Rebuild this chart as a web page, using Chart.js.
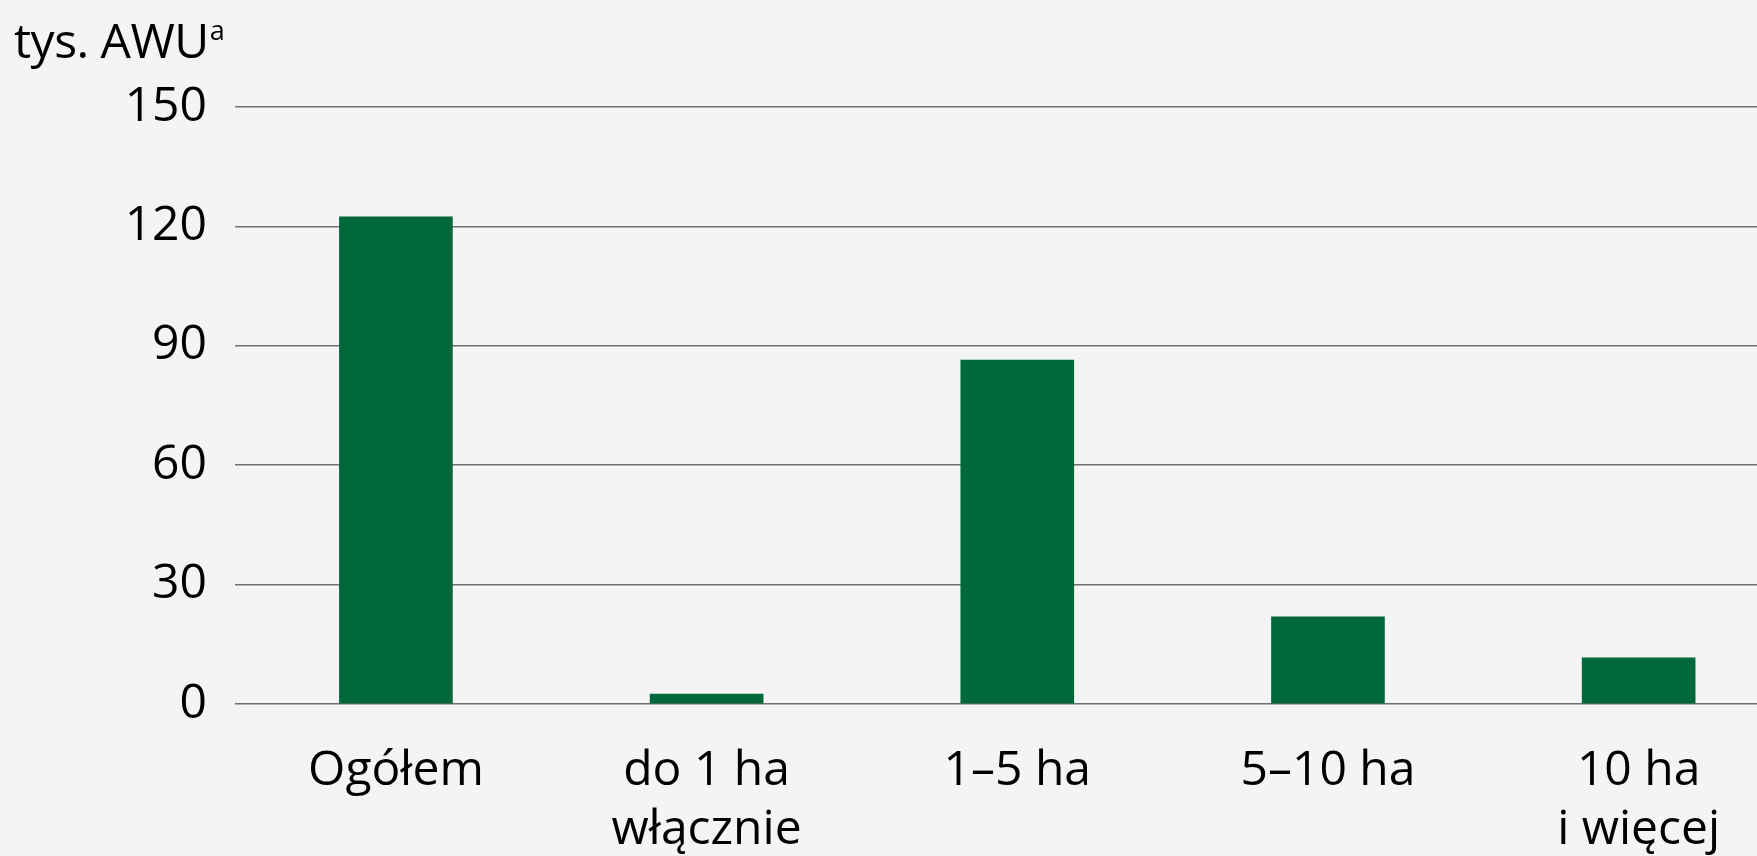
<!DOCTYPE html>
<html>
<head>
<meta charset="utf-8">
<script src="https://cdn.jsdelivr.net/npm/chart.js@4/dist/chart.umd.min.js"></script>
<style>
  html, body { margin: 0; padding: 0; background: #f4f4f4; overflow: hidden; }
  #wrap { position: relative; width: 1757px; height: 856px; }
  #unit { position: absolute; left: 14px; top: 16px; font-family: "Open Sans", sans-serif; font-size: 48px; line-height: 48px; color: #000; white-space: nowrap; letter-spacing: -0.5px; }
  #unit span { position: relative; top: -18px; font-size: 27px; margin-left: 1px; }
  canvas { position: absolute; left: 0; top: 0; }
</style>
</head>
<body>
<div id="wrap">
  <canvas id="c" width="1757" height="856"></canvas>
  <div id="unit">tys. AWU<span>a</span></div>
</div>
<script>
const categories = ["Ogółem", ["do 1 ha", "włącznie"], "1–5 ha", "5–10 ha", ["10 ha", "i więcej"]];
const values = [122.4, 2.5, 86.4, 21.9, 11.6];
const yTicks = [0, 30, 60, 90, 120, 150];

const FONT = { family: '"Open Sans", sans-serif', size: 48 };
const bg = {
  id: 'bg',
  beforeDraw(chart) {
    const ctx = chart.ctx;
    ctx.save();
    ctx.fillStyle = '#f4f4f4';
    ctx.fillRect(0, 0, chart.width, chart.height);
    ctx.restore();
  }
};

new Chart(document.getElementById('c'), {
  type: 'bar',
  data: {
    datasets: [{
      data: values.map((v, i) => ({ x: i, y: v })),
      backgroundColor: '#00693c',
      borderWidth: 0,
      barThickness: 113
    }]
  },
  options: {
    responsive: false,
    animation: false,
    layout: { padding: { top: 107, right: 0, left: 0, bottom: 0 } },
    plugins: { legend: { display: false }, tooltip: { enabled: false } },
    scales: {
      x: {
        type: 'linear',
        min: -0.518,
        max: 4.381,
        offset: false,
        grid: { display: false },
        border: { display: false },
        afterBuildTicks(scale) { scale.ticks = categories.map((c, i) => ({ value: i })); },
        afterFit(scale) { scale.height = 152; },
        ticks: {
          autoSkip: false,
          maxRotation: 0,
          padding: 30,
          color: '#000',
          font: { ...FONT, lineHeight: 1.23 },
          callback: (v) => categories[v]
        }
      },
      y: {
        min: 0,
        max: 150,
        afterBuildTicks(scale) { scale.ticks = yTicks.map(v => ({ value: v })); },
        afterFit(scale) { scale.width = 235; },
        grid: { color: '#707070', lineWidth: 1.5, drawTicks: false },
        border: { display: false },
        ticks: { padding: 28, color: '#000', font: FONT }
      }
    }
  },
  plugins: [bg]
});
</script>
</body>
</html>
